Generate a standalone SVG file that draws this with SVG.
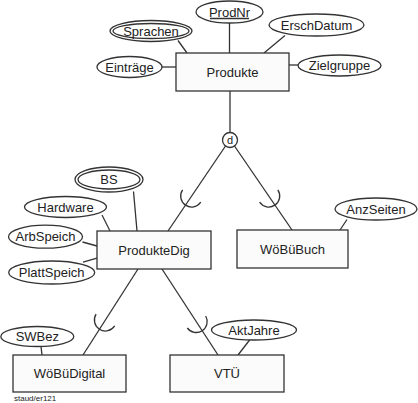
<svg xmlns="http://www.w3.org/2000/svg" width="418" height="403" viewBox="0 0 418 403">
<style>
.ent{fill:#fbfbfb;stroke:#333;stroke-width:1.3}
.att{fill:#fff;stroke:#333;stroke-width:1.3}
.ln{fill:none;stroke:#333;stroke-width:1.3}
text{font-family:"Liberation Sans",Arial,sans-serif;font-size:13px;fill:#222;text-anchor:middle}
.small{font-size:8px;text-anchor:start}
</style>
<rect width="418" height="403" fill="#fff"/>
<g id="connectors">
<line class="ln" x1="229.5" y1="23" x2="229.5" y2="53"/>
<line class="ln" x1="178" y1="40.5" x2="187" y2="53"/>
<line class="ln" x1="285" y1="35.5" x2="264" y2="53"/>
<line class="ln" x1="162" y1="67" x2="176" y2="67"/>
<line class="ln" x1="289" y1="65" x2="298" y2="65"/>
<line class="ln" x1="230" y1="91" x2="230" y2="132.5"/>
<line class="ln" x1="225.5" y1="146" x2="168" y2="231"/>
<line class="ln" x1="234.5" y1="146" x2="292" y2="230"/>
<path class="ln" d="M182.6 189.8 A11 11 0 0 0 200.8 202.2"/>
<path class="ln" d="M277.8 189.8 A11 11 0 0 1 259.6 202.2"/>
<line class="ln" x1="133.5" y1="191.5" x2="137" y2="231"/>
<line class="ln" x1="102" y1="215" x2="110" y2="231"/>
<line class="ln" x1="82.5" y1="242" x2="97" y2="246"/>
<line class="ln" x1="83" y1="262" x2="97" y2="258"/>
<line class="ln" x1="347" y1="219.5" x2="340" y2="230"/>
<line class="ln" x1="138" y1="269" x2="83" y2="355"/>
<line class="ln" x1="162" y1="269" x2="218" y2="355"/>
<path class="ln" d="M96.1 314.1 A11 11 0 0 0 114.7 325.9"/>
<path class="ln" d="M205.7 316 A11 11 0 0 1 187.3 328"/>
<line class="ln" x1="41" y1="346.5" x2="42" y2="355"/>
<line class="ln" x1="250" y1="339.5" x2="238" y2="355"/>
</g>
<g id="Produkte"><rect class="ent" x="176" y="53" width="113" height="38"/><text x="232.5" y="77">Produkte</text></g>
<g id="ProdNr"><ellipse class="att" cx="229.5" cy="12" rx="33.5" ry="11"/><text x="229.5" y="16.5">ProdNr</text><line class="ln" x1="210" y1="18.5" x2="249" y2="18.5" stroke-width="1"/></g>
<g id="Sprachen"><ellipse class="att" cx="151" cy="31" rx="41" ry="10.5"/><ellipse class="att" cx="151" cy="31" rx="38" ry="7.5"/><text x="151" y="35.5">Sprachen</text></g>
<g id="ErschDatum"><ellipse class="att" cx="316.5" cy="25" rx="47.5" ry="11"/><text x="316.5" y="29.5">ErschDatum</text></g>
<g id="Eintraege"><ellipse class="att" cx="129.5" cy="67" rx="32.5" ry="10.5"/><text x="129.5" y="71.5">Einträge</text></g>
<g id="Zielgruppe"><ellipse class="att" cx="339.5" cy="65.5" rx="41.5" ry="10.5"/><text x="339.5" y="70">Zielgruppe</text></g>
<g id="d"><circle class="att" cx="230" cy="140" r="7.5"/><text x="230" y="144" style="font-size:11px">d</text></g>
<g id="ProdukteDig"><rect class="ent" x="97" y="231" width="114" height="38"/><text x="154" y="255">ProdukteDig</text></g>
<g id="WoeBueBuch"><rect class="ent" x="237" y="230" width="111" height="38"/><text x="292.5" y="254">WöBüBuch</text></g>
<g id="BS"><ellipse class="att" cx="109" cy="179.5" rx="34" ry="12.5"/><ellipse class="att" cx="109" cy="179.5" rx="31" ry="9.5"/><text x="109" y="184">BS</text></g>
<g id="Hardware"><ellipse class="att" cx="65.5" cy="207" rx="41" ry="10.5"/><text x="65.5" y="211.5">Hardware</text></g>
<g id="ArbSpeich"><ellipse class="att" cx="45.5" cy="236.7" rx="37" ry="11.5"/><text x="45.5" y="241.2">ArbSpeich</text></g>
<g id="PlattSpeich"><ellipse class="att" cx="51.7" cy="272.5" rx="43" ry="11.5"/><text x="51.7" y="277">PlattSpeich</text></g>
<g id="AnzSeiten"><ellipse class="att" cx="376" cy="209" rx="41" ry="11"/><text x="376" y="213.5">AnzSeiten</text></g>
<g id="WoeBueDigital"><rect class="ent" x="13" y="355" width="113" height="37"/><text x="69.5" y="378">WöBüDigital</text></g>
<g id="VTUe"><rect class="ent" x="170" y="355" width="114" height="37"/><text x="227" y="378">VTÜ</text></g>
<g id="SWBez"><ellipse class="att" cx="37.3" cy="336.5" rx="36.5" ry="10"/><text x="37.3" y="341">SWBez</text></g>
<g id="AktJahre"><ellipse class="att" cx="254" cy="330" rx="42.5" ry="10"/><text x="254" y="334.5">AktJahre</text></g>
<text class="small" x="14" y="401">staud/er121</text>
</svg>
